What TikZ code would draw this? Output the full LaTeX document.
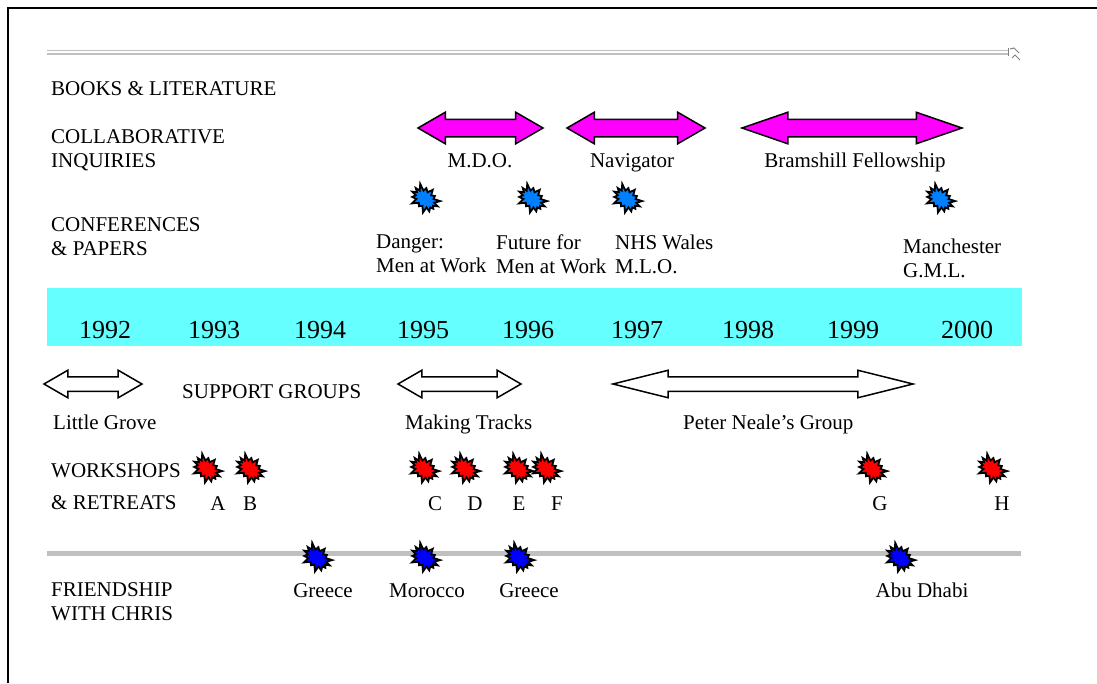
\documentclass[tikz,border=0pt]{standalone}
\usepackage{fontspec}
\setmainfont{Liberation Serif}
\usetikzlibrary{shapes.arrows,shapes.symbols}
\definecolor{lblue}{HTML}{0080FF}
\definecolor{dblue}{HTML}{0000FF}
\definecolor{bandcyan}{HTML}{66FFFF}
\definecolor{mag}{HTML}{FF00FF}
\definecolor{lgray}{HTML}{C0C0C0}
\tikzset{
  lbl/.style={anchor=base west, inner sep=0pt, font=\fontsize{21}{24}\selectfont, align=left},
  clbl/.style={anchor=base, inner sep=0pt, font=\fontsize{21}{24}\selectfont},
  yr/.style={anchor=base, inner sep=0pt, font=\fontsize{26}{30}\selectfont},
  burst/.style={starburst, draw=black, line width=1.8pt, fill=#1, inner sep=0pt,
    minimum width=35pt, minimum height=28pt, rotate=-40, starburst points=14,
    starburst point height=7pt},
  magarrow/.style={double arrow, draw=black, line width=1.5pt, fill=mag, inner xsep=0pt,
    inner ysep=8pt, double arrow head extend=7pt, double arrow tip angle=#1},
  whitearrow/.style={double arrow, draw=black, line width=1.5pt, fill=white, inner xsep=0pt,
    inner ysep=6.5pt, double arrow head extend=6.5pt, double arrow tip angle=#1},
}
\begin{document}
\begin{tikzpicture}[x=1pt,y=-1pt]
\useasboundingbox (0,0) rectangle (1097,683);
\fill[white] (0,0) rectangle (1097,683);
% frame
\draw[line width=2.5pt] (8,683) -- (8,8) -- (1097,8);
% top gray line (books & literature)
\draw[lgray, line width=1.3pt] (47,50.5) -- (1008,50.5);
\draw[lgray, line width=1.3pt] (47,54) -- (1008,54);
\draw[gray, line width=0.8pt] (1008,48) -- (1008,56);
\draw[gray, line width=1pt] (1010,49) -- (1014,48) -- (1019,53);
\draw[gray, line width=1pt] (1012,58) -- (1015,55) -- (1020,60);
% left labels
\node[lbl] (books) at (51,95) {BOOKS \& LITERATURE};
\node[lbl, anchor=north west] (collab) at (51,129) {COLLABORATIVE\\INQUIRIES};
\node[lbl, anchor=north west] (conf) at (51,217) {CONFERENCES\\\& PAPERS};
\node[lbl] (support) at (182,398) {SUPPORT GROUPS};
\node[lbl] (work1) at (51,477) {WORKSHOPS};
\node[lbl] (work2) at (51,509) {\& RETREATS};
\node[lbl, anchor=north west] (friend) at (51,582) {FRIENDSHIP\\WITH CHRIS};
% collaborative inquiries
\node[magarrow=60, minimum height=125pt] (mdo) at (480.5,128) {};
\node[magarrow=60, minimum height=138pt] (nav) at (636,128) {};
\node[magarrow=38, minimum height=220pt] (bram) at (852,128) {};
\node[clbl] (mdol) at (480,167) {M.D.O.};
\node[clbl] (navl) at (632,167) {Navigator};
\node[clbl] (braml) at (855,167) {Bramshill Fellowship};
% conferences
\node[burst=lblue] (c1) at (425,199) {};
\node[burst=lblue] (c2) at (532,199) {};
\node[burst=lblue] (c3) at (627,199) {};
\node[burst=lblue] (c4) at (940,199) {};
\node[lbl, anchor=north west] (c1l) at (376,235) {Danger:\\Men at Work};
\node[lbl, anchor=north west] (c2l) at (496,235) {Future for\\Men at Work};
\node[lbl, anchor=north west] (c3l) at (615,235) {NHS Wales\\M.L.O.};
\node[lbl, anchor=north west] (c4l) at (903,239) {Manchester\\G.M.L.};
% year band
\fill[bandcyan] (47,288) rectangle (1022,346);
\node[yr] (y92) at (105,338) {1992};
\node[yr] (y93) at (214,338) {1993};
\node[yr] (y94) at (320,338) {1994};
\node[yr] (y95) at (423,338) {1995};
\node[yr] (y96) at (528,338) {1996};
\node[yr] (y97) at (637,338) {1997};
\node[yr] (y98) at (748,338) {1998};
\node[yr] (y99) at (853,338) {1999};
\node[yr] (y00) at (967,338) {2000};
% support groups
\node[whitearrow=60, minimum height=98pt] (lg) at (93,384) {};
\node[whitearrow=60, minimum height=123pt] (mt) at (459.5,384) {};
\node[whitearrow=28, minimum height=300pt] (pn) at (763,384) {};
\node[lbl] (lgl) at (53,429) {Little Grove};
\node[lbl] (mtl) at (405,429) {Making Tracks};
\node[lbl] (pnl) at (683,429) {Peter Neale's Group};
% workshops
\node[burst=red] (wa) at (207,469) {};
\node[burst=red] (wb) at (250,469) {};
\node[burst=red] (wc) at (424,469) {};
\node[burst=red] (wd) at (465,469) {};
\node[burst=red] (we) at (518,469) {};
\node[burst=red] (wf) at (546,469) {};
\node[burst=red] (wg) at (872,469) {};
\node[burst=red] (wh) at (992,469) {};
\node[clbl] (la) at (218,510) {A};
\node[clbl] (lb) at (250,510) {B};
\node[clbl] (lc) at (435,510) {C};
\node[clbl] (ld) at (475,510) {D};
\node[clbl] (le) at (519,510) {E};
\node[clbl] (lf) at (557,510) {F};
\node[clbl] (lgg) at (880,510) {G};
\node[clbl] (lh) at (1002,510) {H};
% friendship
\coordinate (f0) at (47,553);
\coordinate (f1) at (1021,553);
\draw[lgray, line width=5pt] (f0) -- (f1);
\node[burst=dblue] (g1) at (317,558) {};
\node[burst=dblue] (g2) at (425,558) {};
\node[burst=dblue] (g3) at (519,558) {};
\node[burst=dblue] (g4) at (900,558) {};
\node[clbl] (g1l) at (323,597) {Greece};
\node[clbl] (g2l) at (427,597) {Morocco};
\node[clbl] (g3l) at (529,597) {Greece};
\node[clbl] (g4l) at (922,597) {Abu Dhabi};
\end{tikzpicture}
\end{document}
